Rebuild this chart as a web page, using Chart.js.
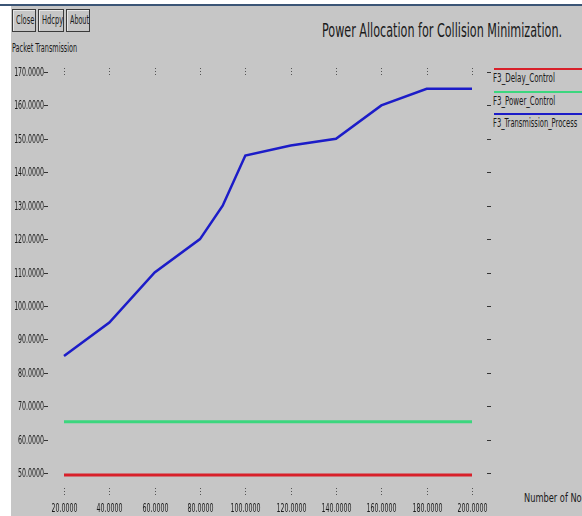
<!DOCTYPE html>
<html lang="en">
<head>
    <meta charset="UTF-8">
    <title>Power Allocation for Collision Minimization.</title>
    <style>
        body {
            margin: 0;
            width: 582px;
            height: 516px;
            overflow: hidden;
            background-color: #c6c6c6;
            font-family: "Liberation Sans Narrow", "Arial Narrow", "DejaVu Sans Condensed", sans-serif;
            color: #1a1a1a;
            position: relative;
        }
        .strip {
            position: absolute;
            left: 0;
            top: 0;
            width: 11px;
            height: 516px;
            background: #ffffff;
        }
        .topbar {
            position: absolute;
            left: 0;
            top: 0;
            width: 582px;
            height: 4px;
            background: #ffffff;
            border-bottom: 2px solid #3b5576;
        }
        .btn {
            position: absolute;
            top: 9px;
            height: 21px;
            border: 1px solid #3a3a3a;
            box-shadow: inset 1px 1px #e6e6e6;
        }
        .btn span {
            position: absolute;
            left: 3px;
            top: 3px;
        }
        .fit {
            display: inline-block;
            font-size: 12px;
            white-space: nowrap;
            transform-origin: left top;
        }
        .label {
            position: absolute;
        }
        #title {
            position: absolute;
            left: 322px;
            top: 18px;
            font-size: 20px;
        }
        #legend > div {
            position: absolute;
            left: 494px;
            width: 88px;
            height: 2px;
        }
        #legend > p {
            position: absolute;
            left: 493px;
            margin: 0;
        }
        canvas {
            position: absolute;
            left: 0;
            top: 0;
        }
    </style>
</head>
<body>
    <div class="strip"></div>
    <div class="topbar"></div>
    <div class="btn" style="left:12px;width:22px;"><span class="fit" data-w="18">Close</span></div>
    <div class="btn" style="left:38px;width:24px;"><span class="fit" data-w="21">Hdcpy</span></div>
    <div class="btn" style="left:66px;width:22px;"><span class="fit" data-w="19">About</span></div>
    <div id="title" class="fit" data-w="240">Power Allocation for Collision Minimization.</div>
    <div class="label" style="left:12px;top:37px;"><span class="fit" data-w="65">Packet Transmission</span></div>
    <div class="label" style="left:524px;top:487px;"><span class="fit" data-w="72">Number of Nodes</span></div>
    <div id="legend"></div>
    <canvas id="chart" width="582" height="516"></canvas>
    <script src="https://cdn.jsdelivr.net/npm/chart.js"></script>
    <script>
        // values
        const seriesNames = ['F3_Delay_Control', 'F3_Power_Control', 'F3_Transmission_Process'];
        const seriesColors = ['#d8202a', '#3cd67e', '#1c1cc8'];
        const legendWidths = [62, 62, 84];

        const flatNodes = [20, 40, 60, 80, 100, 120, 140, 160, 180, 200];
        const delayControl = [49.4, 49.4, 49.4, 49.4, 49.4, 49.4, 49.4, 49.4, 49.4, 49.4];
        const powerControl = [65.3, 65.3, 65.3, 65.3, 65.3, 65.3, 65.3, 65.3, 65.3, 65.3];

        const processNodes = [20, 40, 60, 80, 90, 100, 120, 140, 160, 180, 200];
        const transmissionProcess = [85, 95, 110, 120, 130, 145, 148, 150, 160, 165, 165];

        const xTicks = [20, 40, 60, 80, 100, 120, 140, 160, 180, 200];
        const yTicks = [50, 60, 70, 80, 90, 100, 110, 120, 130, 140, 150, 160, 170];

        const FONT = '"Liberation Sans Narrow", "Arial Narrow", "DejaVu Sans Condensed", sans-serif';
        const SQUEEZE = 0.58;

        // legend: coloured line above each name
        const legend = document.getElementById('legend');
        let legendHtml = '';
        seriesNames.forEach((name, i) => {
            const top = 68 + i * 22.5;
            legendHtml += `<div style="top:${top}px;background:${seriesColors[i]}"></div>` +
                `<p style="top:${top - 1}px"><span class="fit" data-w="${legendWidths[i]}">${name}</span></p>`;
        });
        legend.innerHTML = legendHtml;

        // the original uses a narrow face, squeeze text to the widths seen
        document.querySelectorAll('.fit').forEach(el => {
            el.style.transform = 'scaleX(' + (el.dataset.w / el.offsetWidth) + ')';
        });

        const toPoints = (xs, ys) => xs.map((x, i) => ({ x: x, y: ys[i] }));

        function squeezedText(ctx, text, x, y) {
            ctx.save();
            ctx.translate(x, y);
            ctx.scale(SQUEEZE, 1);
            ctx.fillText(text, 0, 0);
            ctx.restore();
        }

        // tick labels, dashes and dotted marks like the original plot
        const axisMarks = {
            id: 'axisMarks',
            afterDraw(chart) {
                const ctx = chart.ctx;
                const area = chart.chartArea;
                const xs = chart.scales.x;
                const ys = chart.scales.y;
                ctx.save();
                ctx.font = '12px ' + FONT;
                ctx.fillStyle = '#1a1a1a';
                ctx.strokeStyle = '#333';
                ctx.lineWidth = 1;
                ctx.textBaseline = 'middle';

                ctx.textAlign = 'right';
                yTicks.forEach(v => {
                    const py = Math.round(ys.getPixelForValue(v)) + 0.5;
                    squeezedText(ctx, v.toFixed(4), 44, py);
                    ctx.beginPath();
                    ctx.moveTo(44, py);
                    ctx.lineTo(48, py);
                    ctx.moveTo(area.right - 3, py);
                    ctx.lineTo(area.right + 1, py);
                    ctx.stroke();
                });

                ctx.textAlign = 'center';
                ctx.strokeStyle = '#555';
                ctx.setLineDash([1, 2]);
                xTicks.forEach(v => {
                    const px = Math.round(xs.getPixelForValue(v)) + 0.5;
                    squeezedText(ctx, v.toFixed(4), px, 508.5);
                    ctx.beginPath();
                    ctx.moveTo(px, 68);
                    ctx.lineTo(px, 77);
                    ctx.moveTo(px, 488);
                    ctx.lineTo(px, 497);
                    ctx.stroke();
                });
                ctx.restore();
            }
        };

        new Chart(document.getElementById('chart').getContext('2d'), {
            type: 'line',
            data: {
                datasets: [
                    {
                        label: seriesNames[0],
                        data: toPoints(flatNodes, delayControl),
                        borderColor: seriesColors[0],
                        borderWidth: 3
                    },
                    {
                        label: seriesNames[1],
                        data: toPoints(flatNodes, powerControl),
                        borderColor: seriesColors[1],
                        borderWidth: 3
                    },
                    {
                        label: seriesNames[2],
                        data: toPoints(processNodes, transmissionProcess),
                        borderColor: seriesColors[2],
                        borderWidth: 2.5
                    }
                ]
            },
            options: {
                responsive: false,
                animation: false,
                layout: { padding: { top: 68, right: 92, bottom: 30, left: 60 } },
                elements: {
                    point: { radius: 0 },
                    line: { tension: 0, borderCapStyle: 'butt' }
                },
                plugins: {
                    legend: { display: false },
                    tooltip: { enabled: false }
                },
                scales: {
                    x: {
                        type: 'linear',
                        display: false,
                        min: 18.235,
                        max: 207.94
                    },
                    y: {
                        display: false,
                        min: 46.11,
                        max: 171.2
                    }
                }
            },
            plugins: [axisMarks]
        });
    </script>
</body>
</html>
